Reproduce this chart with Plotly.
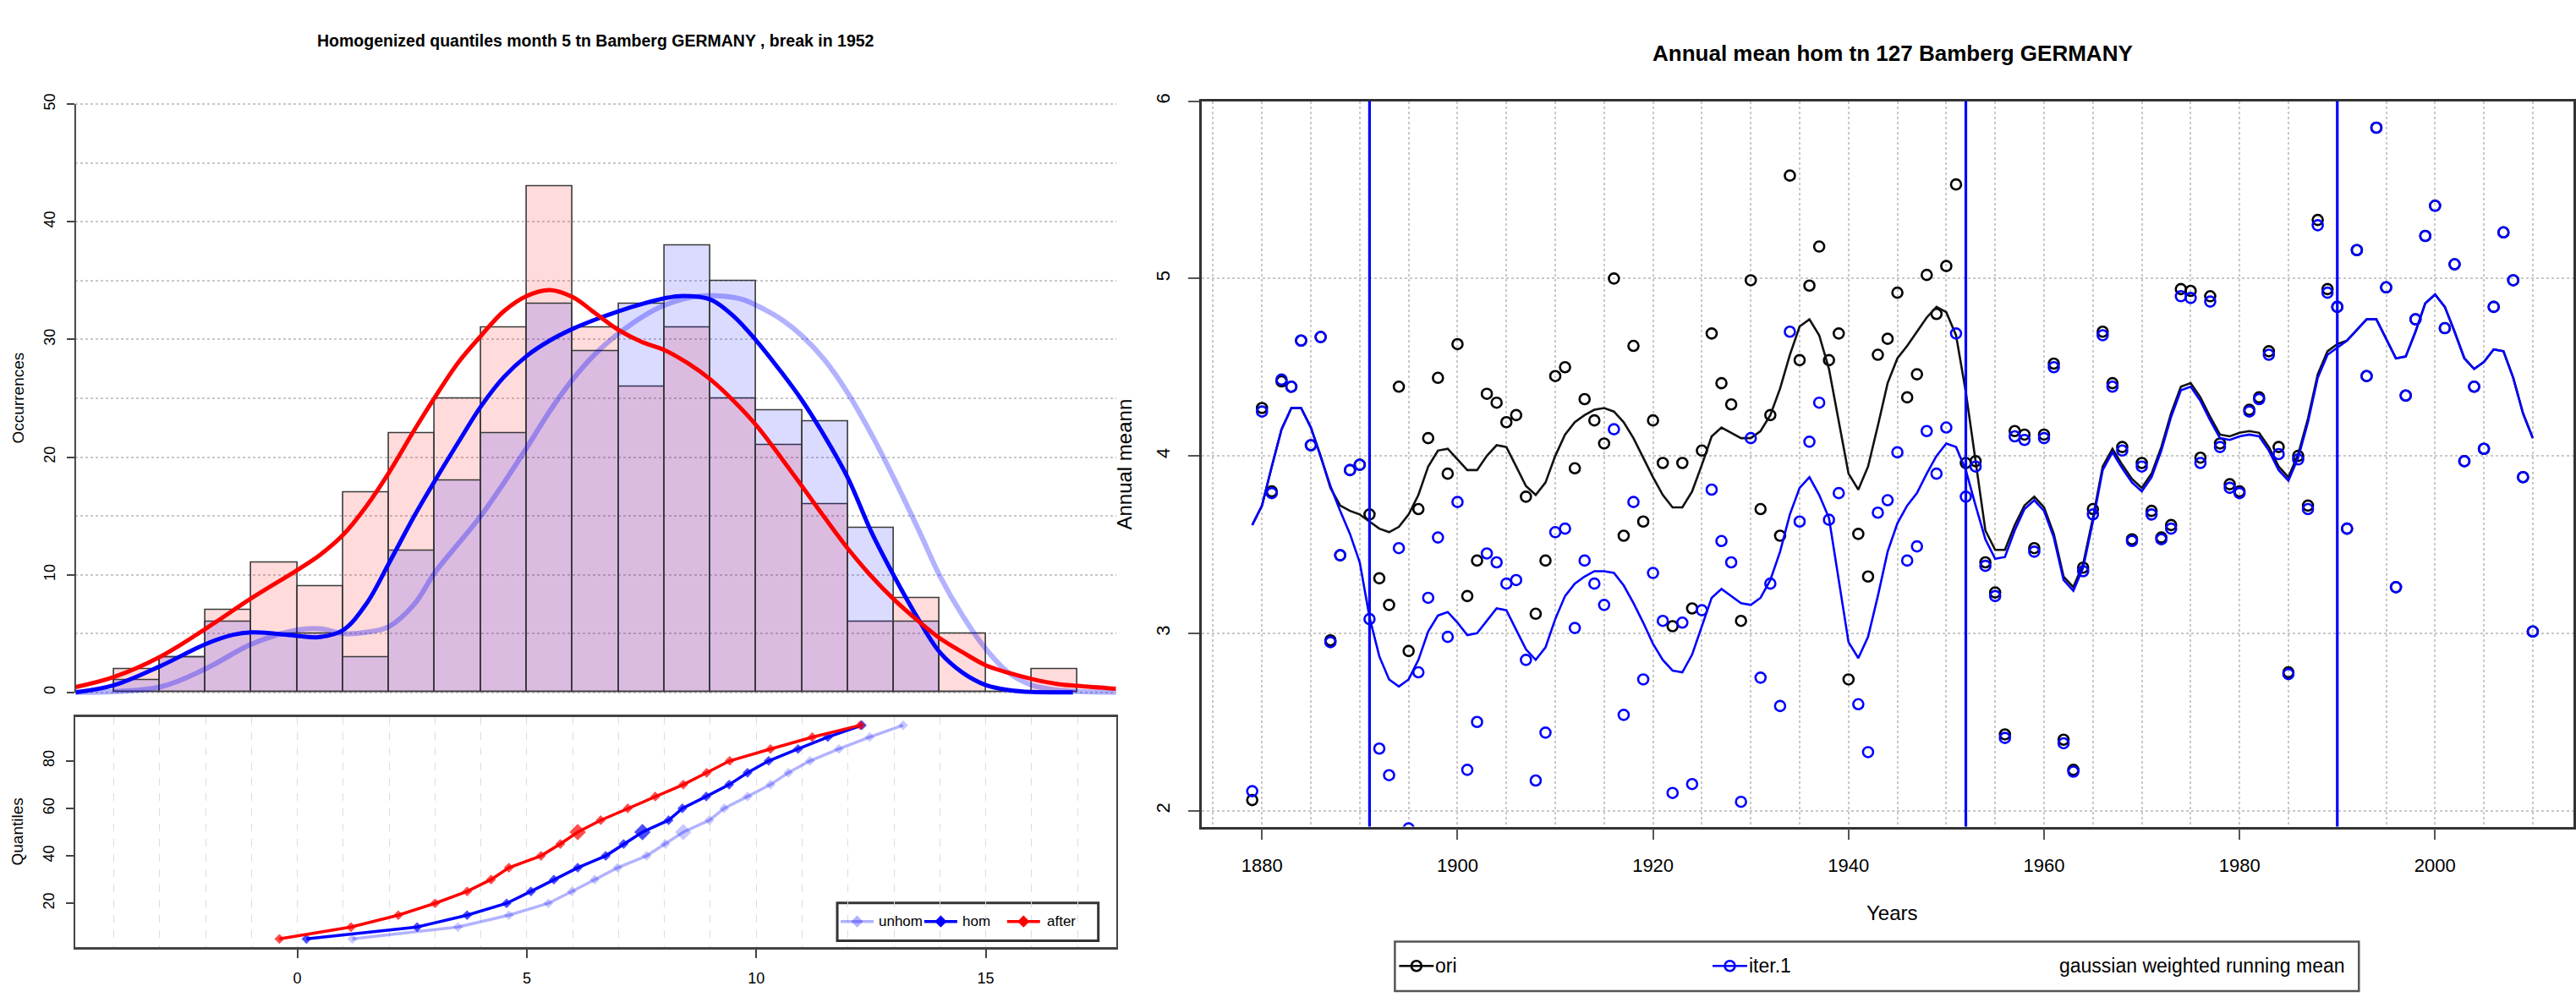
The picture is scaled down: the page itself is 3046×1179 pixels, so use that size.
import plotly.graph_objects as go

W, H = 3046, 1179
FONT = "Liberation Sans, Arial, Helvetica, sans-serif"

# ---------------- left panel: histogram ----------------
hist_bins = [-3.5, -2.5, -1.5, -0.5, 0.5, 1.5, 2.5, 3.5, 4.5, 5.5, 6.5,
             7.5, 8.5, 9.5, 10.5, 11.5, 12.5, 13.5, 14.5, 15.5, 16.5]
after_counts = [2, 3, 7, 11, 9, 17, 22, 25, 31, 43, 31, 26, 31, 25, 21, 16, 6, 8, 5, 0, 2]
hom_counts = [1, 3, 6, 5, 5, 3, 12, 18, 22, 33, 29, 33, 38, 35, 24, 23, 14, 6, 0, 0, 0]

after_kde_x = [-4.83, -4.0, -3.0, -2.0, -1.0, 0.0, 0.5, 1.0, 1.5, 2.0, 2.55, 3.0, 3.5, 4.0,
               4.5, 5.0, 5.5, 6.0, 6.5, 7.0, 7.5, 8.0, 8.5, 9.0, 9.5, 10.0, 10.55, 11.0,
               11.5, 12.0, 12.5, 13.0, 13.55, 14.0, 14.5, 15.0, 15.5, 16.0, 16.55, 17.0, 17.84]
after_kde_y = [0.45, 1.3, 3.0, 5.4, 8.0, 10.4, 11.7, 13.4, 15.8, 18.7, 22.3, 25.1, 28.0, 30.3,
               32.4, 33.7, 34.2, 33.6, 32.2, 30.8, 29.8, 29.1, 28.0, 26.6, 24.8, 22.7, 19.9, 17.5,
               14.8, 12.2, 9.9, 7.9, 6.0, 4.6, 3.4, 2.3, 1.66, 1.14, 0.72, 0.55, 0.3]

hom_kde_x = [-4.83, -4.0, -3.0, -2.0, -1.4, -1.0, -0.5, 0.0, 0.5, 1.0, 1.5, 2.0, 2.55, 3.0,
             3.5, 4.0, 4.5, 5.0, 5.5, 6.0, 6.5, 7.0, 7.5, 8.0, 8.4, 9.0, 9.5, 10.0, 10.55,
             11.0, 11.5, 12.0, 12.5, 13.0, 13.55, 14.0, 14.5, 15.0, 15.5, 16.0, 16.9]
hom_kde_y = [0.0, 0.6, 2.2, 4.1, 4.9, 5.1, 5.0, 4.8, 4.7, 5.3, 7.5, 11.0, 15.0, 18.0,
             21.2, 24.3, 26.8, 28.6, 29.9, 30.9, 31.7, 32.4, 33.0, 33.5, 33.7, 33.4, 32.0, 29.9, 27.2,
             24.8, 21.7, 18.2, 13.7, 9.9, 6.1, 3.4, 1.66, 0.62, 0.2, 0.03, 0.0]

unhom_kde_x = [-4.83, -3.0, -2.0, -1.0, 0.0, 0.5, 1.0, 1.5, 2.0, 2.55, 3.0, 3.5, 4.0, 4.5,
               5.0, 5.5, 6.0, 6.5, 7.0, 7.55, 8.0, 8.6, 9.2, 9.7, 10.2, 10.55, 11.0, 11.5,
               12.0, 12.5, 13.0, 13.55, 14.0, 14.5, 15.0, 15.5, 16.0, 16.55, 17.84]
unhom_kde_y = [0.0, 0.45, 2.0, 4.1, 5.3, 5.4, 5.0, 5.1, 5.6, 7.5, 10.2, 12.6, 15.0, 17.8,
               20.8, 23.9, 26.6, 28.8, 30.5, 32.0, 32.9, 33.6, 33.7, 33.4, 32.5, 31.7, 30.3, 28.2,
               25.4, 22.0, 18.2, 13.7, 9.9, 6.5, 3.7, 1.66, 0.62, 0.2, 0.0]

# ---------------- left panel: quantiles ----------------
quantile_levels = [5, 10, 15, 20, 25, 30, 35, 40, 45, 50, 55, 60, 65, 70, 75, 80, 85, 90, 95]
q_after = [-0.39, 1.17, 2.2, 3.0, 3.7, 4.22, 4.61, 5.31, 5.73, 6.11, 6.61, 7.2, 7.8, 8.41,
           8.92, 9.42, 10.31, 11.22, 12.27]
q_hom = [0.2, 2.61, 3.7, 4.56, 5.09, 5.59, 6.11, 6.72, 7.11, 7.52, 8.09, 8.39, 8.91, 9.41,
         9.81, 10.27, 10.91, 11.56, 12.3]
q_unhom = [1.2, 3.5, 4.61, 5.47, 5.98, 6.48, 6.98, 7.61, 8.02, 8.41, 8.98, 9.3, 9.81, 10.31,
           10.7, 11.17, 11.8, 12.47, 13.2]

# ---------------- right panel: annual means ----------------
years = list(range(1879, 2011))
ori = [2.06, 4.27, 3.80, 4.42, 4.39, 4.65, 4.06, 4.67, 2.96, 3.44, 3.92, 3.95,   # 1879-1890
       3.67, 3.31, 3.16, 4.39, 2.90, 3.70, 4.10, 4.44, 3.90, 4.63,               # 1891-1900
       3.21, 3.41, 4.35, 4.30, 4.19, 4.23, 3.77, 3.11, 3.41, 4.45,               # 1901-1910
       4.50, 3.93, 4.32, 4.20, 4.07, 5.00, 3.55, 4.62, 3.63, 4.20,               # 1911-1920
       3.96, 3.04, 3.96, 3.14, 4.03, 4.69, 4.41, 4.29, 3.07, 4.99,               # 1921-1930
       3.70, 4.23, 3.55, 5.58, 4.54, 4.96, 5.18, 4.54, 4.69, 2.74,               # 1931-1940
       3.56, 3.32, 4.57, 4.66, 4.92, 4.33, 4.46, 5.02, 4.80, 5.07,               # 1941-1950
       5.53, 3.96, 3.97, 3.40, 3.23, 2.43, 4.14, 4.12, 3.48, 4.12,               # 1951-1960
       4.52, 2.40, 2.23, 3.37, 3.70, 4.70, 4.41, 4.05, 3.53, 3.96,               # 1961-1970
       3.69, 3.54, 3.61, 4.94, 4.93, 3.99, 4.90, 4.07, 3.84, 3.80,               # 1971-1980
       4.26, 4.33, 4.59, 4.05, 2.78, 4.00, 3.72, 5.33, 4.94, 4.84,               # 1981-1990
       3.59, 5.16, 4.45, 5.85, 4.95, 3.26, 4.34, 4.77, 5.24, 5.41,               # 1991-2000
       4.72, 5.08, 3.97, 4.39, 4.04, 4.84, 5.26, 4.99, 3.88, 3.01]               # 2001-2010
iter1 = [2.11, 4.25, 3.79, 4.43, 4.39, 4.65, 4.06, 4.67, 2.95, 3.44, 3.92, 3.95,
         3.08, 2.35, 2.20, 3.48, 1.90, 2.78, 3.20, 3.54, 2.98, 3.74,
         2.23, 2.50, 3.45, 3.40, 3.28, 3.30, 2.85, 2.17, 2.44, 3.57,
         3.59, 3.03, 3.41, 3.28, 3.16, 4.15, 2.54, 3.74, 2.74, 3.34,
         3.07, 2.10, 3.06, 2.15, 3.13, 3.81, 3.52, 3.40, 2.05, 4.10,
         2.75, 3.28, 2.59, 4.70, 3.63, 4.08, 4.30, 3.64, 3.79, 1.85,
         2.60, 2.33, 3.68, 3.75, 4.02, 3.41, 3.49, 4.14, 3.90, 4.16,
         4.69, 3.77, 3.94, 3.38, 3.21, 2.41, 4.11, 4.09, 3.46, 4.10,
         4.50, 2.38, 2.22, 3.35, 3.67, 4.68, 4.39, 4.03, 3.52, 3.94,
         3.67, 3.53, 3.59, 4.90, 4.89, 3.96, 4.87, 4.05, 3.82, 3.79,
         4.25, 4.32, 4.57, 4.01, 2.77, 3.98, 3.70, 5.30, 4.92, 4.84,
         3.59, 5.16, 4.45, 5.85, 4.95, 3.26, 4.34, 4.77, 5.24, 5.41,
         4.72, 5.08, 3.97, 4.39, 4.04, 4.84, 5.26, 4.99, 3.88, 3.01]
ori_rmean = [3.61, 3.72, 3.94, 4.15, 4.27, 4.27, 4.16, 4.00, 3.82, 3.72, 3.69, 3.67,
             3.63, 3.59, 3.57, 3.60, 3.67, 3.78, 3.94, 4.03, 4.04, 3.98,
             3.92, 3.92, 4.00, 4.06, 4.05, 3.94, 3.83, 3.78, 3.85, 4.00,
             4.12, 4.19, 4.23, 4.26, 4.27, 4.25, 4.19, 4.10, 3.99, 3.88,
             3.78, 3.71, 3.71, 3.80, 3.95, 4.11, 4.16, 4.13, 4.10, 4.10,
             4.14, 4.23, 4.38, 4.57, 4.73, 4.77, 4.68, 4.49, 4.19, 3.90,
             3.81, 3.94, 4.17, 4.41, 4.55, 4.62, 4.70, 4.78, 4.84, 4.81,
             4.68, 4.36, 3.97, 3.58, 3.47, 3.47, 3.61, 3.72, 3.77, 3.71,
             3.56, 3.32, 3.26, 3.39, 3.65, 3.94, 4.04, 3.95, 3.87, 3.82,
             3.90, 4.05, 4.24, 4.39, 4.41, 4.33, 4.22, 4.12, 4.11, 4.13,
             4.14, 4.13, 4.05, 3.94, 3.88, 4.01, 4.21, 4.46, 4.59, 4.63,
             4.65, 4.71, 4.77, 4.77, 4.66, 4.55, 4.56, 4.70, 4.86, 4.91,
             4.84, 4.70, 4.55, 4.49, 4.53, 4.60, 4.59, 4.44, 4.24, 4.10]
iter1_rmean = [3.61, 3.72, 3.94, 4.15, 4.27, 4.27, 4.16, 4.00, 3.83, 3.69, 3.56, 3.40,
               3.09, 2.87, 2.74, 2.70, 2.74, 2.85, 3.01, 3.10, 3.12, 3.06,
               2.99, 3.00, 3.07, 3.14, 3.13, 3.02, 2.91, 2.85, 2.92, 3.08,
               3.21, 3.28, 3.32, 3.35, 3.35, 3.34, 3.27, 3.17, 3.06, 2.94,
               2.85, 2.79, 2.78, 2.88, 3.04, 3.20, 3.25, 3.21, 3.17, 3.16,
               3.20, 3.30, 3.46, 3.67, 3.82, 3.88, 3.78, 3.65, 3.31, 2.95,
               2.86, 2.98, 3.21, 3.46, 3.62, 3.72, 3.79, 3.90, 4.00, 4.07,
               4.05, 3.92, 3.72, 3.53, 3.42, 3.43, 3.58, 3.70, 3.75, 3.69,
               3.54, 3.30, 3.24, 3.37, 3.63, 3.92, 4.02, 3.93, 3.85, 3.80,
               3.88, 4.03, 4.22, 4.37, 4.39, 4.31, 4.20, 4.10, 4.09, 4.11,
               4.12, 4.11, 4.03, 3.92, 3.86, 3.99, 4.19, 4.44, 4.57, 4.61,
               4.65, 4.71, 4.77, 4.77, 4.66, 4.55, 4.56, 4.70, 4.86, 4.91,
               4.84, 4.70, 4.55, 4.49, 4.53, 4.60, 4.59, 4.44, 4.24, 4.10]
break_years = [1891, 1952, 1990]

# ---------------- helpers (pixel -> paper) ----------------
def fx(x):
    return x / W


def fy(y):
    return 1 - y / H


RED = "#FF0000"
BLUE = "#0000FF"
LIGHT = "rgba(0,0,255,0.30)"
GRID = "#c8c8c8"

fig = go.Figure()

# histogram bars
fig.add_trace(go.Bar(x=hist_bins, y=after_counts, width=1, xaxis="x", yaxis="y",
                     marker=dict(color="rgba(255,0,0,0.14)", line=dict(color="#3a3a3a", width=1.6)),
                     showlegend=False))
fig.add_trace(go.Bar(x=hist_bins, y=hom_counts, width=1, xaxis="x", yaxis="y",
                     marker=dict(color="rgba(0,0,255,0.14)", line=dict(color="#3a3a3a", width=1.6)),
                     showlegend=False))
# density curves
fig.add_trace(go.Scatter(x=unhom_kde_x, y=unhom_kde_y, mode="lines", xaxis="x", yaxis="y",
                         line=dict(color=LIGHT, width=6, shape="spline"), showlegend=False))
fig.add_trace(go.Scatter(x=hom_kde_x, y=hom_kde_y, mode="lines", xaxis="x", yaxis="y",
                         line=dict(color=BLUE, width=5, shape="spline"), showlegend=False))
fig.add_trace(go.Scatter(x=after_kde_x, y=after_kde_y, mode="lines", xaxis="x", yaxis="y",
                         line=dict(color=RED, width=5, shape="spline"), showlegend=False))

# quantile curves
q_sizes = [15 if q == 50 else 9 for q in quantile_levels]
for xs, col in [(q_unhom, LIGHT), (q_hom, BLUE), (q_after, RED)]:
    fig.add_trace(go.Scatter(x=xs, y=quantile_levels, mode="lines+markers", xaxis="x2", yaxis="y2",
                             line=dict(color=col, width=3.5),
                             marker=dict(symbol="diamond", size=q_sizes, color=col, line=dict(width=0)),
                             showlegend=False))

# annual series
fig.add_trace(go.Scatter(x=years, y=ori, mode="markers", xaxis="x3", yaxis="y3",
                         marker=dict(symbol="circle-open", size=12, color="black", line=dict(width=2.6)),
                         showlegend=False))
fig.add_trace(go.Scatter(x=years, y=ori_rmean, mode="lines", xaxis="x3", yaxis="y3",
                         line=dict(color="#111111", width=2.6), showlegend=False))
fig.add_trace(go.Scatter(x=years, y=iter1, mode="markers", xaxis="x3", yaxis="y3",
                         marker=dict(symbol="circle-open", size=12, color=BLUE, line=dict(width=2.6)),
                         showlegend=False))
fig.add_trace(go.Scatter(x=years, y=iter1_rmean, mode="lines", xaxis="x3", yaxis="y3",
                         line=dict(color=BLUE, width=2.6), showlegend=False))

# ---------------- legend samples on a full-page pixel overlay ----------------
def seg(x0, x1, y, col, width, symbol, msize):
    fig.add_trace(go.Scatter(x=[x0, x1], y=[y, y], mode="lines", xaxis="x4", yaxis="y4",
                             line=dict(color=col, width=width), showlegend=False, hoverinfo="skip"))
    fig.add_trace(go.Scatter(x=[(x0 + x1) / 2], y=[y], mode="markers", xaxis="x4", yaxis="y4",
                             marker=dict(symbol=symbol, size=msize, color=col,
                                         line=dict(width=2.6 if "open" in symbol else 0, color=col)),
                             showlegend=False, hoverinfo="skip"))

seg(995, 1034, 1089, LIGHT, 3.5, "diamond", 11)
seg(1094, 1133, 1089, BLUE, 3.5, "diamond", 11)
seg(1192, 1231, 1089, RED, 3.5, "diamond", 11)
seg(1656, 1697, 1142, "black", 2.6, "circle-open", 12)
seg(2027, 2068, 1142, BLUE, 2.6, "circle-open", 12)

shapes = []
# hist y-axis line (0..50)
shapes.append(dict(type="line", xref="x domain", yref="y", x0=0, x1=0, y0=0, y1=50,
                   line=dict(color="#444", width=2)))
# break lines
for b in break_years:
    shapes.append(dict(type="line", xref="x3", yref="y3 domain", x0=b, x1=b, y0=0, y1=1,
                       line=dict(color=BLUE, width=3.2), layer="above"))
# legend boxes
shapes.append(dict(type="rect", xref="paper", yref="paper", x0=fx(991), x1=fx(1300),
                   y0=fy(1112), y1=fy(1067), line=dict(color="#333", width=3), fillcolor="white",
                   layer="below"))
shapes.append(dict(type="rect", xref="paper", yref="paper", x0=fx(1651), x1=fx(2792),
                   y0=fy(1172), y1=fy(1113), line=dict(color="#555", width=2.5), fillcolor="white",
                   layer="below"))

annotations = []


def text(x, y, s, size, angle=0, bold=False, xanchor="center"):
    annotations.append(dict(x=fx(x), y=fy(y), xref="paper", yref="paper", text=("<b>%s</b>" % s) if bold else s,
                            showarrow=False, textangle=angle, xanchor=xanchor, yanchor="middle",
                            font=dict(family=FONT, size=size, color="black")))


text(705, 39, "Homogenized quantiles month 5 tn Bamberg GERMANY , break in 1952", 19.5, bold=True)
text(2240, 54, "Annual mean hom tn 127 Bamberg GERMANY", 26, bold=True)
text(21, 465, "Occurrences", 19, angle=-90)
text(21, 982, "Quantiles", 19, angle=-90)
text(1331, 544, "Annual meann", 24, angle=-90)
text(2240, 1079, "Years", 24)
text(1038, 1089, "unhom", 17, xanchor="left")
text(1137, 1089, "hom", 17, xanchor="left")
text(1237, 1089, "after", 17, xanchor="left")
text(1697, 1142, "ori", 23, xanchor="left")
text(2068, 1142, "iter.1", 23, xanchor="left")
text(2778, 1142, "gaussian weighted running mean", 23, xanchor="right")

tickfont_l = dict(family=FONT, size=18, color="black")
tickfont_r = dict(family=FONT, size=22, color="black")

LX = [fx(89), fx(1321)]
XR = [-4.84, 17.84]

fig.update_layout(
    width=W, height=H, margin=dict(l=0, r=0, t=0, b=0),
    paper_bgcolor="white", plot_bgcolor="rgba(0,0,0,0)",
    barmode="overlay", bargap=0,
    font=dict(family=FONT, color="black"),
    shapes=shapes, annotations=annotations,
    xaxis=dict(domain=LX, range=XR, anchor="y", showticklabels=False, ticks="", showgrid=False,
               zeroline=False, showline=False),
    yaxis=dict(domain=[fy(844), fy(87)], range=[-2, 52], anchor="x", tickmode="linear", tick0=0, dtick=10,
               ticks="outside", ticklen=9, tickwidth=2, tickcolor="#444", tickangle=-90,
               tickfont=tickfont_l, ticklabelstandoff=7,
               showgrid=True, gridcolor=GRID, griddash="dot", gridwidth=1.5, zeroline=False, showline=False,
               minor=dict(tick0=0, dtick=5, showgrid=True, gridcolor=GRID, griddash="dot", gridwidth=1.5,
                          ticks="")),
    xaxis2=dict(domain=LX, range=XR, anchor="y2", tickmode="linear", tick0=0, dtick=5,
                ticks="outside", ticklen=10, tickwidth=2, tickcolor="#444", tickfont=tickfont_l,
                ticklabelstandoff=8,
                showgrid=True, gridcolor="#dddddd", griddash="dash", gridwidth=1.2, zeroline=False,
                showline=True, linecolor="#444", linewidth=3, mirror=True,
                minor=dict(tick0=0, dtick=1, showgrid=True, gridcolor="#dddddd", griddash="dash",
                           gridwidth=1.2, ticks="")),
    yaxis2=dict(domain=[fy(1120), fy(845)], range=[1.4, 98.6], anchor="x2", tickmode="linear", tick0=0,
                dtick=20, ticks="outside", ticklen=9, tickwidth=2, tickcolor="#444", tickangle=-90,
                tickfont=tickfont_l, ticklabelstandoff=7, showgrid=False, zeroline=False,
                showline=True, linecolor="#444", linewidth=2, mirror=True),
    xaxis3=dict(domain=[fx(1422), 1.0], range=[1873.8, 2014.16], anchor="y3", tickmode="linear",
                tick0=1880, dtick=20, ticks="outside", ticklen=13, tickwidth=2, tickcolor="#555",
                tickfont=tickfont_r, ticklabelstandoff=11,
                showgrid=True, gridcolor=GRID, griddash="dot", gridwidth=1.5, zeroline=False,
                showline=True, linecolor="#333", linewidth=2.5, mirror=True,
                minor=dict(tick0=1875, dtick=5, showgrid=True, gridcolor=GRID, griddash="dot",
                           gridwidth=1.5, ticks="")),
    yaxis3=dict(domain=[fy(976), fy(111.4)], range=[1.91, 6.0], anchor="x3", tickmode="linear", tick0=2,
                dtick=1, ticks="outside", ticklen=13, tickwidth=2, tickcolor="#555", tickangle=-90,
                tickfont=tickfont_r, ticklabelstandoff=13,
                showgrid=True, gridcolor=GRID, griddash="dot", gridwidth=1.5, zeroline=False,
                showline=True, linecolor="#333", linewidth=2.5, mirror=True),
    xaxis4=dict(domain=[0, 1], range=[0, W], anchor="y4", visible=False, fixedrange=True),
    yaxis4=dict(domain=[0, 1], range=[H, 0], anchor="x4", visible=False, fixedrange=True),
)

fig.write_html("out.html", config={"displayModeBar": False},
               post_script="document.body.style.margin='0px';document.body.style.overflow='hidden';")
